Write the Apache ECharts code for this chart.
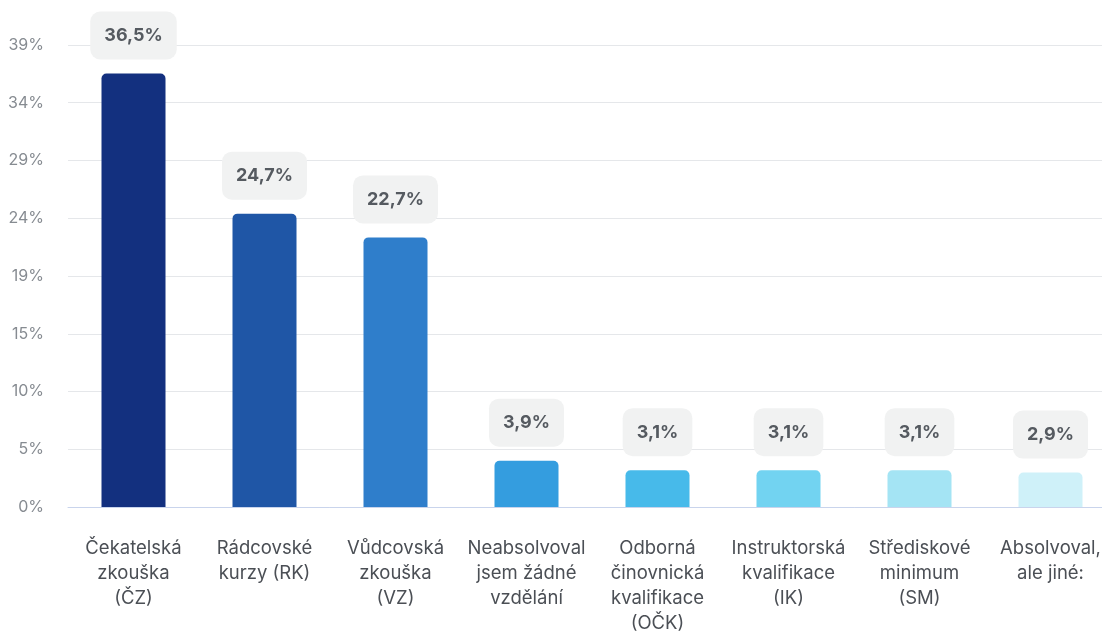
<!DOCTYPE html>
<html>
<head>
<meta charset="utf-8">
<style>
  html, body { margin: 0; padding: 0; background: #fff; overflow: hidden; }
  #chart { width: 1116px; height: 631px; }
</style>
<script src="https://cdn.jsdelivr.net/npm/echarts@6/dist/echarts.min.js"></script>
</head>
<body>
<div id="chart"></div>
<script>
// kategorie (osa x)
const categories = [
  'Čekatelská\nzkouška\n(ČZ)',
  'Rádcovské\nkurzy (RK)',
  'Vůdcovská\nzkouška\n(VZ)',
  'Neabsolvoval\njsem žádné\nvzdělání',
  'Odborná\nčinovnická\nkvalifikace\n(OČK)',
  'Instruktorská\nkvalifikace\n(IK)',
  'Střediskové\nminimum\n(SM)',
  'Absolvoval,\nale jiné:'
]

// podíly v %
const values = [36.5, 24.7, 22.7, 3.9, 3.1, 3.1, 3.1, 2.9]

const barColors = [
  '#13307f', '#1f56a6', '#2f7ecb', '#349ddf',
  '#47baea', '#72d3f1', '#a4e4f4', '#cff1f9'
]

// osa y: 8 dílků do 38,9 %
const yMax = 38.9
const yInterval = yMax / 8

const chart = echarts.init(document.getElementById('chart'))

const option = {
  backgroundColor: '#fff',
  animation: false,
  textStyle: { fontFamily: 'Inter, sans-serif' },
  grid: { left: 68, right: 0, top: 45, bottom: 124, outerBoundsMode: 'none' },
  xAxis: {
    type: 'category',
    data: categories,
    axisTick: { show: false },
    axisLine: { lineStyle: { color: '#c9d4ec', width: 1 } },
    axisLabel: {
      color: '#4b4f55',
      fontSize: 18.5,
      lineHeight: 25,
      margin: 29,
      interval: 0
    }
  },
  yAxis: {
    type: 'value',
    min: 0,
    max: yMax,
    interval: yInterval,
    axisLine: { show: false },
    axisTick: { show: false },
    splitLine: { lineStyle: { color: '#e5e7ea' } },
    axisLabel: {
      color: '#868b91',
      fontSize: 16,
      margin: 24,
      formatter: (v) => Math.round(v) + '%'
    }
  },
  series: [
    {
      type: 'bar',
      barWidth: 64,
      data: values.map((v, i) => ({
        value: v,
        itemStyle: { color: barColors[i], borderRadius: [5, 5, 0, 0] }
      })),
      label: {
        show: true,
        position: 'top',
        distance: 14,
        formatter: (p) => String(p.value).replace('.', ',') + '%',
        color: '#555a60',
        fontSize: 18,
        fontWeight: 'bold',
        backgroundColor: '#f1f2f2',
        borderRadius: 10,
        padding: [15, 14]
      }
    }
  ]
}

chart.setOption(option)
</script>
</body>
</html>
